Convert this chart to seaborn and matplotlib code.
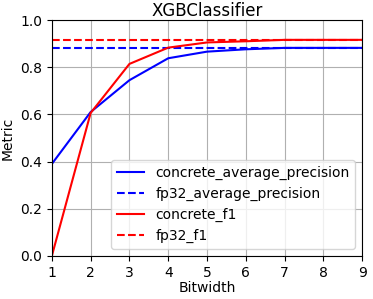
import matplotlib
matplotlib.use("Agg")
import matplotlib.pyplot as plt
import seaborn as sns
import pandas as pd

bitwidth = [1, 2, 3, 4, 5, 6, 7, 8, 9]
concrete_average_precision = [0.39, 0.61, 0.745, 0.838, 0.866, 0.876, 0.882, 0.882, 0.882]
fp32_average_precision = [0.883] * 9
concrete_f1 = [0.0, 0.606, 0.814, 0.883, 0.905, 0.91, 0.916, 0.916, 0.916]
fp32_f1 = [0.916] * 9

series = {
    "concrete_average_precision": (concrete_average_precision, "blue", "-"),
    "fp32_average_precision": (fp32_average_precision, "blue", "--"),
    "concrete_f1": (concrete_f1, "red", "-"),
    "fp32_f1": (fp32_f1, "red", "--"),
}

fig, ax = plt.subplots(figsize=(3.73, 2.99), dpi=100)

for name, (vals, color, ls) in series.items():
    df = pd.DataFrame({"Bitwidth": bitwidth, "Metric": vals})
    sns.lineplot(data=df, x="Bitwidth", y="Metric", color=color,
                 linestyle=ls, label=name, ax=ax)

ax.set_xlim(1, 9)
ax.set_ylim(0, 1)
ax.set_xticks(bitwidth)
ax.grid(True)
ax.set_title("XGBClassifier", fontsize=12, pad=2)
ax.set_xlabel("Bitwidth", labelpad=1)
ax.legend(loc="lower right")

fig.subplots_adjust(left=0.139, right=0.971, top=0.933, bottom=0.144)
plt.savefig("out.png", dpi=100)
